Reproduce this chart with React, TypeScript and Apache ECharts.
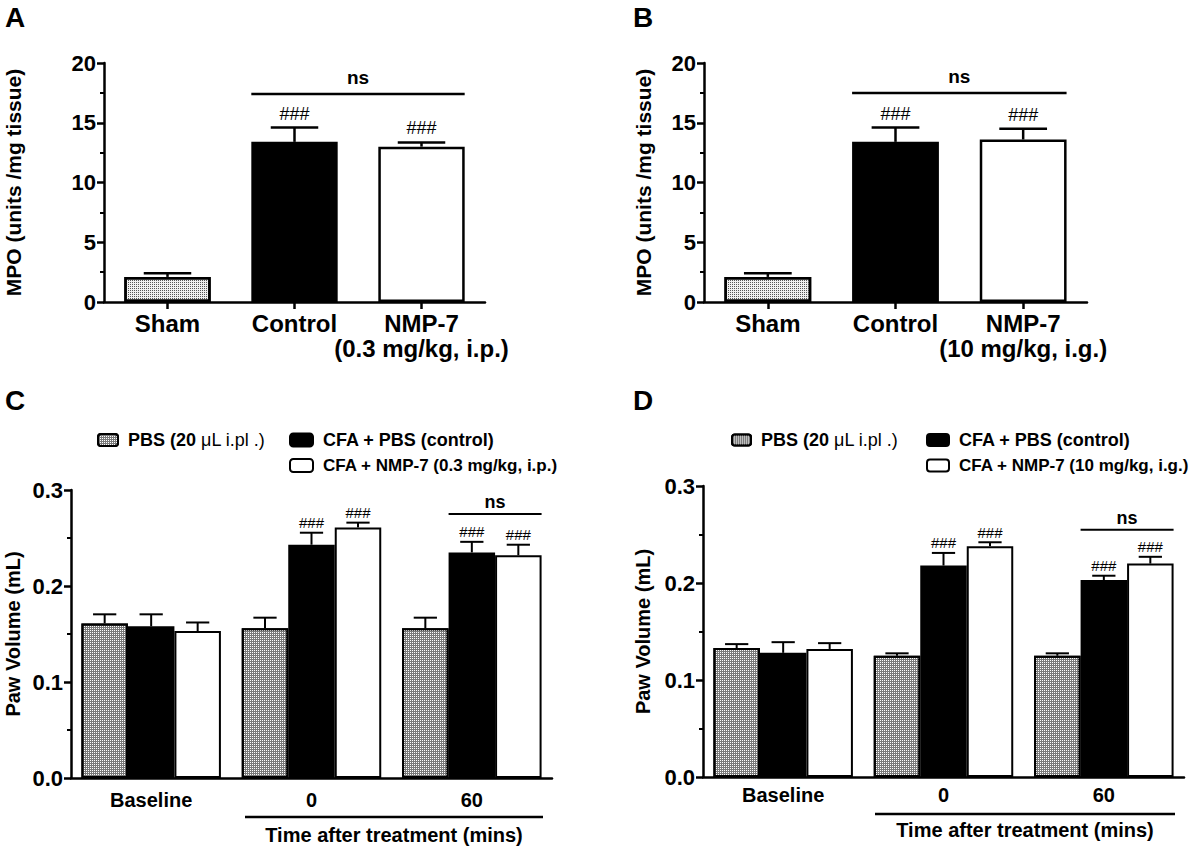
import React, { useEffect, useRef } from 'react';
import * as echarts from 'echarts';

const FONT = '"Liberation Sans", Arial, Helvetica, sans-serif';

// ---------- Panels A / B : MPO ----------
const mpoCategoriesA = ['Sham', 'Control', 'NMP-7\n(0.3 mg/kg, i.p.)'];
const mpoCategoriesB = ['Sham', 'Control', 'NMP-7\n(10 mg/kg, i.g.)'];
const mpoMeanA = [2.1, 13.4, 13.0];
const mpoSemA = [0.3, 1.2, 0.35];
const mpoMeanB = [2.1, 13.4, 13.6];
const mpoSemB = [0.3, 1.2, 0.9];
const mpoSig = ['', '###', '###'];
const mpoMax = 20;
const mpoStep = 5;
// [from category, to category, y value]
const nsA = [1, 2, 17.4];
const nsB = [1, 2, 17.5];

// ---------- Panels C / D : Paw volume ----------
const timeCategories = ['Baseline', '0', '60'];
const namePBS = 'PBS (20 μL i.pl .)';
const nameCFA = 'CFA + PBS (control)';
const nameNMPC = 'CFA + NMP-7 (0.3 mg/kg, i.p.)';
const nameNMPD = 'CFA + NMP-7 (10 mg/kg, i.g.)';

const pbsMeanC = [0.161, 0.156, 0.156];
const pbsSemC = [0.0095, 0.011, 0.011];
const cfaMeanC = [0.158, 0.243, 0.235];
const cfaSemC = [0.0125, 0.0125, 0.011];
const nmpMeanC = [0.153, 0.261, 0.232];
const nmpSemC = [0.009, 0.005, 0.011];

const pbsMeanD = [0.133, 0.125, 0.125];
const pbsSemD = [0.004, 0.0025, 0.0025];
const cfaMeanD = [0.128, 0.218, 0.203];
const cfaSemD = [0.011, 0.013, 0.0045];
const nmpMeanD = [0.132, 0.238, 0.22];
const nmpSemD = [0.006, 0.004, 0.007];

const pbsSig = ['', '', ''];
const treatedSig = ['', '###', '###'];
const pawMax = 0.3;
const pawStep = 0.1;
const nsC = [2, 2, 0.275];
const nsD = [2, 2, 0.255];

const stippleDecal = {
  symbol: 'rect',
  symbolSize: 1,
  color: '#555555',
  dashArrayX: [1, 1],
  dashArrayY: [1, 1],
};
const hatchDecal = {
  symbol: 'rect',
  symbolSize: 1,
  color: '#ffffff',
  dashArrayX: [1, 1],
  dashArrayY: [1, 1],
};

function errorBars(o: any) {
  const { xi, means, sems, sigs, n, k, gap, capFrac, sigSize, sigOff, lw } = o;
  return {
    type: 'custom',
    name: 'err' + xi + '_' + k,
    xAxisIndex: xi,
    yAxisIndex: xi,
    z: 5,
    clip: false,
    silent: true,
    encode: { x: 0, y: [1, 2] },
    data: means.map((m: number, i: number) => [i, m, m + sems[i]]),
    renderItem: (params: any, api: any) => {
      const i = params.dataIndex;
      const cat = api.value(0);
      const base = api.coord([cat, api.value(1)]);
      const top = api.coord([cat, api.value(2)]);
      const band = api.size([1, 0])[0];
      const bw = (band * (1 - gap)) / n;
      const x = base[0] + (k - (n - 1) / 2) * bw;
      const cw = bw * capFrac;
      const children: any[] = [
        { type: 'line', shape: { x1: x, y1: base[1], x2: x, y2: top[1] }, style: { stroke: '#000', lineWidth: lw } },
        { type: 'line', shape: { x1: x - cw / 2, y1: top[1], x2: x + cw / 2, y2: top[1] }, style: { stroke: '#000', lineWidth: lw } },
      ];
      if (sigs[i]) {
        children.push({
          type: 'text',
          x,
          y: top[1] - sigOff,
          style: { text: sigs[i], fontSize: sigSize, fontFamily: FONT, fill: '#000', align: 'center', verticalAlign: 'middle' },
        });
      }
      return { type: 'group', children };
    },
  };
}

function nsBracket(o: any) {
  const { xi, spec, s0, s1, n, gap, size, off, lw } = o;
  return {
    type: 'custom',
    name: 'ns' + xi,
    xAxisIndex: xi,
    yAxisIndex: xi,
    z: 5,
    clip: false,
    silent: true,
    encode: { x: [0, 1], y: 2 },
    data: [spec],
    renderItem: (params: any, api: any) => {
      const p0 = api.coord([api.value(0), api.value(2)]);
      const p1 = api.coord([api.value(1), api.value(2)]);
      const band = api.size([1, 0])[0];
      const bw = (band * (1 - gap)) / n;
      const left = p0[0] + (s0 - (n - 1) / 2) * bw - bw / 2;
      const right = p1[0] + (s1 - (n - 1) / 2) * bw + bw / 2;
      return {
        type: 'group',
        children: [
          { type: 'line', shape: { x1: left, y1: p0[1], x2: right, y2: p0[1] }, style: { stroke: '#000', lineWidth: lw } },
          {
            type: 'text',
            x: (left + right) / 2,
            y: p0[1] - off,
            style: { text: 'ns', fontSize: size, fontWeight: 'bold', fontFamily: FONT, fill: '#000', align: 'center', verticalAlign: 'middle' },
          },
        ],
      };
    },
  };
}

function yAxisCfg(gi: number, max: number, interval: number, name: string, nameGap: number, nameSize: number, fmt: (v: number) => string) {
  return {
    type: 'value',
    gridIndex: gi,
    min: 0,
    max,
    interval,
    name,
    nameLocation: 'middle',
    nameGap,
    nameTextStyle: { fontSize: nameSize, fontWeight: 'bold', fontFamily: FONT, color: '#000' },
    axisLine: { show: true, lineStyle: { color: '#000', width: 2.5 } },
    axisTick: { show: true, length: 7, lineStyle: { color: '#000', width: 2.5 } },
    minorTick: { show: true, splitNumber: 2, length: 4, lineStyle: { color: '#000', width: 2 } },
    splitLine: { show: false },
    axisLabel: { fontSize: 22, fontWeight: 'bold', color: '#000', fontFamily: FONT, margin: 8, formatter: fmt },
  };
}

function xAxisCfg(gi: number, data: string[], ticks: boolean, size: number, lh: number, margin: number) {
  return {
    type: 'category',
    gridIndex: gi,
    data,
    axisLine: { show: true, lineStyle: { color: '#000', width: 2.5 } },
    axisTick: { show: ticks, alignWithLabel: true, length: 7, lineStyle: { color: '#000', width: 2.5 } },
    splitLine: { show: false },
    axisLabel: { interval: 0, fontSize: size, lineHeight: lh, fontWeight: 'bold', color: '#000', fontFamily: FONT, margin },
  };
}

function mpoBars(xi: number, means: number[]) {
  const fills = [
    { color: '#efefef', decal: stippleDecal },
    { color: '#000000' },
    { color: '#ffffff' },
  ];
  return {
    type: 'bar',
    name: 'mpo' + xi,
    xAxisIndex: xi,
    yAxisIndex: xi,
    barCategoryGap: '32%',
    itemStyle: { borderColor: '#000', borderWidth: 2.5 },
    data: means.map((v, i) => ({ value: v, itemStyle: fills[i] })),
  };
}

const GAP_CD = 0.13;

function pawBars(xi: number, name: string, means: number[], style: any) {
  return {
    type: 'bar',
    name,
    xAxisIndex: xi,
    yAxisIndex: xi,
    barGap: '0%',
    barCategoryGap: '13%',
    itemStyle: Object.assign({ borderColor: '#000', borderWidth: 2 }, style),
    data: means,
  };
}

const pbsStyle = { color: '#7a7a7a', decal: hatchDecal };
const cfaStyle = { color: '#000000' };
const nmpStyle = { color: '#ffffff' };

function legendPair(left1: number, left2: number, top: number, nmpName: string, iw: number, ih: number) {
  const text = {
    fontSize: 18,
    fontWeight: 'bold',
    fontFamily: FONT,
    color: '#000',
    padding: [0, 0, 0, 5],
    rich: {
      b: { fontSize: 18, fontWeight: 'bold', fontFamily: FONT, color: '#000' },
      n: { fontSize: 18, fontWeight: 'normal', fontFamily: FONT, color: '#000' },
      c: { fontSize: 17, fontWeight: 'bold', fontFamily: FONT, color: '#000' },
    },
  };
  return [
    {
      data: [namePBS],
      left: left1,
      top,
      padding: 0,
      itemWidth: iw - 3,
      itemHeight: ih - 1,
      selectedMode: false,
      textStyle: text,
      formatter: () => '{b|PBS (20 }{n|μL i.pl .)}',
    },
    {
      data: [nameCFA, nmpName],
      orient: 'vertical',
      left: left2,
      top,
      padding: 0,
      itemGap: 8,
      itemWidth: iw,
      itemHeight: ih,
      selectedMode: false,
      textStyle: text,
      formatter: (name: string) => (name === nmpName ? '{c|' + name + '}' : '{b|' + name + '}'),
    },
  ];
}

export default function App() {
  const ref = useRef<HTMLDivElement>(null);
  useEffect(() => {
    if (!ref.current) return;
    const chart = echarts.init(ref.current, undefined, { renderer: 'svg' });
    const fmt0 = (v: number) => String(v);
    const fmt1 = (v: number) => v.toFixed(1);
    const option: any = {
      animation: false,
      backgroundColor: '#ffffff',
      title: [
        { text: 'A', left: 5, top: 3, padding: 0, textStyle: { fontSize: 28, fontWeight: 'bold', fontFamily: FONT, color: '#000' } },
        { text: 'B', left: 633, top: 3, padding: 0, textStyle: { fontSize: 28, fontWeight: 'bold', fontFamily: FONT, color: '#000' } },
        { text: 'C', left: 5, top: 386, padding: 0, textStyle: { fontSize: 28, fontWeight: 'bold', fontFamily: FONT, color: '#000' } },
        { text: 'D', left: 633, top: 386, padding: 0, textStyle: { fontSize: 28, fontWeight: 'bold', fontFamily: FONT, color: '#000' } },
      ],
      legend: [
        ...legendPair(97, 289, 431, nameNMPC, 23, 13),
        ...legendPair(731, 926, 431, nameNMPD, 22, 12),
      ],
      grid: [
        { left: 104, top: 63, width: 381, height: 239 },
        { left: 704, top: 63, width: 383, height: 239 },
        { left: 71, top: 490, width: 481, height: 288 },
        { left: 703, top: 486, width: 481, height: 291 },
      ],
      xAxis: [
        xAxisCfg(0, mpoCategoriesA, true, 24, 25, 9),
        xAxisCfg(1, mpoCategoriesB, true, 24, 25, 9),
        xAxisCfg(2, timeCategories, false, 20, 20, 12),
        xAxisCfg(3, timeCategories, false, 20, 20, 8),
      ],
      yAxis: [
        yAxisCfg(0, mpoMax, mpoStep, 'MPO (units /mg tissue)', 80, 21, fmt0),
        yAxisCfg(1, mpoMax, mpoStep, 'MPO (units /mg tissue)', 50, 21, fmt0),
        yAxisCfg(2, pawMax, pawStep, 'Paw Volume (mL)', 48, 20, fmt1),
        yAxisCfg(3, pawMax, pawStep, 'Paw Volume (mL)', 50, 20, fmt1),
      ],
      series: [
        mpoBars(0, mpoMeanA),
        errorBars({ xi: 0, means: mpoMeanA, sems: mpoSemA, sigs: mpoSig, n: 1, k: 0, gap: 0.32, capFrac: 0.55, sigSize: 18, sigOff: 14, lw: 2.5 }),
        nsBracket({ xi: 0, spec: nsA, s0: 0, s1: 0, n: 1, gap: 0.32, size: 19, off: 17, lw: 2.5 }),

        mpoBars(1, mpoMeanB),
        errorBars({ xi: 1, means: mpoMeanB, sems: mpoSemB, sigs: mpoSig, n: 1, k: 0, gap: 0.32, capFrac: 0.55, sigSize: 18, sigOff: 14, lw: 2.5 }),
        nsBracket({ xi: 1, spec: nsB, s0: 0, s1: 0, n: 1, gap: 0.32, size: 19, off: 16, lw: 2.5 }),

        pawBars(2, namePBS, pbsMeanC, pbsStyle),
        pawBars(2, nameCFA, cfaMeanC, cfaStyle),
        pawBars(2, nameNMPC, nmpMeanC, nmpStyle),
        errorBars({ xi: 2, means: pbsMeanC, sems: pbsSemC, sigs: pbsSig, n: 3, k: 0, gap: GAP_CD, capFrac: 0.5, sigSize: 15, sigOff: 10, lw: 2 }),
        errorBars({ xi: 2, means: cfaMeanC, sems: cfaSemC, sigs: treatedSig, n: 3, k: 1, gap: GAP_CD, capFrac: 0.5, sigSize: 15, sigOff: 10, lw: 2 }),
        errorBars({ xi: 2, means: nmpMeanC, sems: nmpSemC, sigs: treatedSig, n: 3, k: 2, gap: GAP_CD, capFrac: 0.5, sigSize: 15, sigOff: 10, lw: 2 }),
        nsBracket({ xi: 2, spec: nsC, s0: 1, s1: 2, n: 3, gap: GAP_CD, size: 18, off: 12, lw: 2 }),

        pawBars(3, namePBS, pbsMeanD, pbsStyle),
        pawBars(3, nameCFA, cfaMeanD, cfaStyle),
        pawBars(3, nameNMPD, nmpMeanD, nmpStyle),
        errorBars({ xi: 3, means: pbsMeanD, sems: pbsSemD, sigs: pbsSig, n: 3, k: 0, gap: GAP_CD, capFrac: 0.5, sigSize: 15, sigOff: 10, lw: 2 }),
        errorBars({ xi: 3, means: cfaMeanD, sems: cfaSemD, sigs: treatedSig, n: 3, k: 1, gap: GAP_CD, capFrac: 0.5, sigSize: 15, sigOff: 10, lw: 2 }),
        errorBars({ xi: 3, means: nmpMeanD, sems: nmpSemD, sigs: treatedSig, n: 3, k: 2, gap: GAP_CD, capFrac: 0.5, sigSize: 15, sigOff: 10, lw: 2 }),
        nsBracket({ xi: 3, spec: nsD, s0: 1, s1: 2, n: 3, gap: GAP_CD, size: 18, off: 12, lw: 2 }),
      ],
      graphic: [
        { type: 'line', shape: { x1: 245, y1: 817, x2: 543, y2: 817 }, style: { stroke: '#000', lineWidth: 2.5 } },
        { type: 'text', x: 394, y: 835, style: { text: 'Time after treatment (mins)', fontSize: 20, fontWeight: 'bold', fontFamily: FONT, fill: '#000', align: 'center', verticalAlign: 'middle' } },
        { type: 'line', shape: { x1: 875, y1: 814, x2: 1175, y2: 814 }, style: { stroke: '#000', lineWidth: 2.5 } },
        { type: 'text', x: 1025, y: 830, style: { text: 'Time after treatment (mins)', fontSize: 20, fontWeight: 'bold', fontFamily: FONT, fill: '#000', align: 'center', verticalAlign: 'middle' } },
      ],
    };
    chart.setOption(option);
    return () => chart.dispose();
  }, []);
  return <div ref={ref} style={{ position: 'absolute', left: 0, top: 0, width: 1200, height: 847 }} />;
}
